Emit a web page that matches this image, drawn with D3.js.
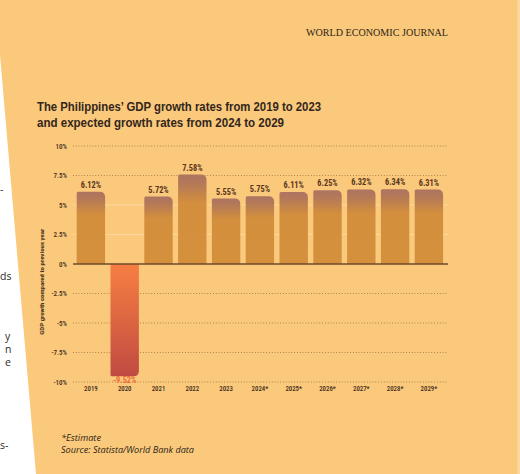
<!DOCTYPE html>
<html>
<head>
<meta charset="utf-8">
<script src="https://cdn.jsdelivr.net/npm/d3@7"></script>
<style>
  html, body { margin: 0; padding: 0; background: #fac97b; }
  svg { display: block; }
</style>
</head>
<body>
<svg id="chart" width="520" height="474"></svg>
<script>
// ---- data ----
const years = ["2019", "2020", "2021", "2022", "2023", "2024*", "2025*", "2026*", "2027*", "2028*", "2029*"];
const growth = [6.12, -9.52, 5.72, 7.58, 5.55, 5.75, 6.11, 6.25, 6.32, 6.34, 6.31];
const yTicks = [10, 7.5, 5, 2.5, 0, -2.5, -5, -7.5, -10];
const yTickLabels = ["10%", "7.5%", "5%", "2.5%", "0%", "-2.5%", "-5%", "-7.5%", "-10%"];
const dottedTicks = [10, 7.5, -2.5, -5, -7.5, -10];
const titleLines = ["The Philippines\u2019 GDP growth rates from 2019 to 2023", "and expected growth rates from 2024 to 2029"];
const journal = "WORLD ECONOMIC JOURNAL";
const yTitle = "GDP growth compared to previous year";
const notes = ["*Estimate", "Source: Statista/World Bank data"];
const pageFragments = [{t: "-", x: 0, y: 193}, {t: "ds", x: 0, y: 280}, {t: "y", x: 5, y: 340}, {t: "n", x: 5, y: 353}, {t: "e", x: 5, y: 366}, {t: "s-", x: 0, y: 449}];

const svg = d3.select("#chart");
const W = 520, H = 474;
const condensed = "'Liberation Sans Narrow','Roboto Condensed','Roboto','Noto Sans',sans-serif";

// background
svg.append("rect").attr("width", W).attr("height", H).attr("fill", "#fac97b");
svg.append("rect").attr("x", 517.5).attr("y", 0).attr("width", 2.5).attr("height", H).attr("fill", "#fcd9a3");
// white page edge on the left
svg.append("path").attr("d", "M0,55 L36,474 L0,474 Z").attr("fill", "#ffffff");
const clip = svg.append("clipPath").attr("id", "pageclip");
clip.append("path").attr("d", "M0,55 L36,474 L0,474 Z");
svg.append("g").attr("clip-path", "url(#pageclip)")
  .selectAll("text").data(pageFragments).join("text")
  .attr("x", d => d.x).attr("y", d => d.y)
  .attr("font-family", "'Open Sans',sans-serif").attr("font-size", 10.5).attr("fill", "#2b2b2b")
  .text(d => d.t);

// gradients
const defs = svg.append("defs");
const gPos = defs.append("linearGradient").attr("id", "gpos").attr("x1", 0).attr("y1", 0).attr("x2", 0).attr("y2", 1);
gPos.append("stop").attr("offset", 0).attr("stop-color", "#ad7462");
gPos.append("stop").attr("offset", 0.1).attr("stop-color", "#b47958");
gPos.append("stop").attr("offset", 0.32).attr("stop-color", "#d38f3d");
gPos.append("stop").attr("offset", 1).attr("stop-color", "#d4903b");
const gNeg = defs.append("linearGradient").attr("id", "gneg").attr("x1", 0).attr("y1", 0).attr("x2", 0).attr("y2", 1);
gNeg.append("stop").attr("offset", 0).attr("stop-color", "#f67e43");
gNeg.append("stop").attr("offset", 0.5).attr("stop-color", "#dc6641");
gNeg.append("stop").attr("offset", 1).attr("stop-color", "#c04a42");

// header
svg.append("text").attr("x", 306).attr("y", 36)
  .attr("font-family", "'Liberation Serif','DejaVu Serif',serif").attr("font-size", 10)
  .attr("fill", "#2e2418").attr("textLength", 142).attr("lengthAdjust", "spacingAndGlyphs")
  .text(journal);

const titleLens = [284, 247];
svg.selectAll("text.title").data(titleLines).join("text").attr("class", "title")
  .attr("x", 37).attr("y", (d, i) => 110.5 + i * 16)
  .attr("font-family", "'Liberation Sans','Arial',sans-serif").attr("font-weight", "bold")
  .attr("font-size", 13.5).attr("fill", "#33261c")
  .attr("textLength", (d, i) => titleLens[i]).attr("lengthAdjust", "spacingAndGlyphs")
  .text(d => d);

// scales
const x = d3.scaleBand().domain(years).range([74, 445.8]).paddingInner(0.16).paddingOuter(0.08);
const y = d3.scaleLinear().domain([-10, 10]).range([382, 146]);
const gx0 = 73, gx1 = 448;

// faint solid grid lines (hidden behind bars)
svg.selectAll("line.faint").data([5, 2.5]).join("line").attr("class", "faint")
  .attr("x1", gx0).attr("x2", gx1).attr("y1", d => y(d)).attr("y2", d => y(d))
  .attr("stroke", "#fcd8a0").attr("stroke-width", 1);
// dotted grid lines
svg.selectAll("line.grid").data(dottedTicks).join("line").attr("class", "grid")
  .attr("x1", gx0).attr("x2", gx1).attr("y1", d => y(d)).attr("y2", d => y(d))
  .attr("stroke", "#8f5f33").attr("stroke-width", 0.8).attr("stroke-dasharray", "0.8,2");

// y-axis tick labels via d3 axis
const yAxis = d3.axisLeft(y).tickValues(yTicks).tickSize(0).tickPadding(0)
  .tickFormat((d, i) => yTickLabels[i]);
const ya = svg.append("g").attr("transform", "translate(67,0)").call(yAxis);
ya.select(".domain").remove();
ya.selectAll("text").attr("font-family", condensed).attr("font-size", 7).attr("font-weight", 500)
  .attr("fill", "#3e2a1c").attr("dy", "0.35em");

// y title
svg.append("text").attr("transform", `translate(43.5,${(y(6) + y(-9)) / 2}) rotate(-90)`)
  .attr("text-anchor", "middle").attr("font-family", condensed).attr("font-weight", "bold")
  .attr("font-size", 6).attr("fill", "#4a3322").attr("textLength", 106).attr("lengthAdjust", "spacingAndGlyphs")
  .text(yTitle);

// bars
function barPath(d, i) {
  const v = growth[i];
  const x0 = x(d), x1 = x(d) + x.bandwidth();
  const y0 = y(0), yv = y(v);
  const rs = 1.5, rb = 5.5;
  if (v >= 0) {
    return `M${x0},${y0} V${yv + rs} Q${x0},${yv} ${x0 + rs},${yv} H${x1 - rb} Q${x1},${yv} ${x1},${yv + rb} V${y0} Z`;
  }
  return `M${x0},${y0} V${yv - rs} Q${x0},${yv} ${x0 + rs},${yv} H${x1 - rb} Q${x1},${yv} ${x1},${yv - rb} V${y0} Z`;
}
svg.selectAll("path.bar").data(years).join("path").attr("class", "bar")
  .attr("d", barPath)
  .attr("fill", (d, i) => growth[i] >= 0 ? "url(#gpos)" : "url(#gneg)");

// zero line
svg.append("line").attr("x1", gx0).attr("x2", gx1).attr("y1", y(0)).attr("y2", y(0))
  .attr("stroke", "#6e4a2c").attr("stroke-width", 1.6);

// value labels
svg.selectAll("text.val").data(years).join("text").attr("class", "val")
  .attr("x", d => x(d) + x.bandwidth() / 2)
  .attr("y", (d, i) => growth[i] >= 0 ? y(growth[i]) - 4 : y(growth[i]) + 6.5)
  .attr("text-anchor", "middle").attr("font-family", condensed).attr("font-weight", "bold")
  .attr("font-size", 8.3)
  .attr("fill", (d, i) => growth[i] >= 0 ? "#5b3622" : "#ee6a3c")
  .text((d, i) => growth[i].toFixed(2) + "%");

// x labels via axis
const xAxis = d3.axisBottom(x).tickSize(0).tickPadding(0);
const xa = svg.append("g").attr("transform", "translate(0,386)").call(xAxis);
xa.select(".domain").remove();
xa.selectAll("text").attr("font-family", condensed).attr("font-size", 6.8).attr("font-weight", 500)
  .attr("fill", "#3e2a1c").attr("dy", "0.71em");

// footnotes
const noteLens = [40, 133];
svg.selectAll("text.note").data(notes).join("text").attr("class", "note")
  .attr("x", 61).attr("y", (d, i) => 440.5 + i * 12.5)
  .attr("font-family", "'Open Sans','Liberation Sans',sans-serif").attr("font-style", "italic")
  .attr("font-size", 9.5).attr("fill", "#2e2418")
  .attr("textLength", (d, i) => noteLens[i]).attr("lengthAdjust", "spacingAndGlyphs")
  .text(d => d);
</script>
</body>
</html>
